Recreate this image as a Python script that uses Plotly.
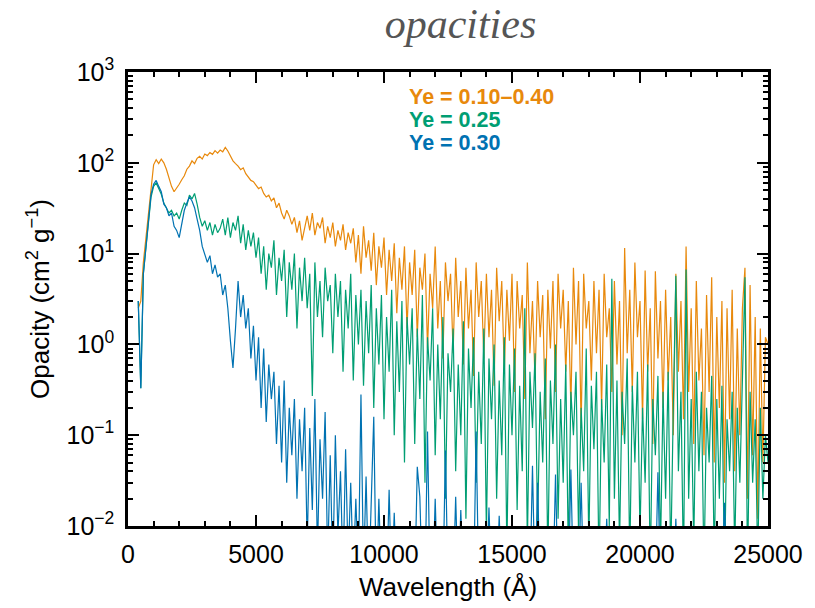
import plotly.graph_objects as go

# wavelength grid (Angstrom): 400 .. 25000 in 100 A steps
wl_start = 400
wl_step = 100

opacity_ye_010_040 = [
    2.5, 3.0, 8, 15, 32, 60, 95, 108, 98, 110,
    100, 85, 68, 55, 48, 52, 58, 65, 72, 85,
    92, 105, 98, 112, 118, 110, 125, 120, 130, 124,
    136, 128, 138, 132, 148, 135, 118, 105, 98, 92,
    84, 88, 76, 70, 64, 62, 56, 52, 54, 46,
    42, 44, 38, 41, 32, 36, 28, 24, 30, 26,
    21, 25, 17, 23, 14, 20, 26, 18, 28, 16,
    22, 19, 25, 13, 20, 15, 22, 12, 18, 14,
    21, 11, 17, 13, 19, 8, 16, 6, 20, 9,
    14, 6.5, 17, 4.5, 12, 7, 15, 3.5, 11, 5,
    13, 2.2, 9, 4, 12, 1.5, 8, 3.5, 11, 1.2,
    7, 4, 10, 0.9, 6, 2.5, 12, 1.5, 5, 0.7,
    8, 3, 6, 0.8, 9, 2, 5, 0.6, 7, 1.5,
    4, 0.45, 8, 2, 5, 0.7, 6, 1.2, 4, 0.35,
    7, 1.8, 5, 0.5, 4, 1.1, 6, 0.3, 5, 1.5,
    3.5, 0.25, 8, 0.8, 3, 0.4, 5, 1.2, 3.5, 0.15,
    4, 0.9, 5, 0.3, 6, 1.5, 4, 0.5, 3, 0.2,
    7, 1, 5, 0.12, 6, 1.5, 3, 0.4, 5, 0.8,
    4, 0.2, 6, 1.2, 2.5, 0.3, 5, 0.6, 3, 0.1,
    11.5, 0.8, 4, 0.3, 8, 1.2, 3, 0.15, 6.5, 0.5,
    2.5, 0.08, 6.4, 0.7, 3, 0.2, 4, 0.4, 2, 0.1,
    6, 0.5, 3, 0.15, 12, 0.3, 2.5, 0.08, 5, 0.4,
    1.5, 0.06, 3.5, 0.3, 5.5, 0.05, 2, 0.2, 3, 0.03,
    2.5, 0.15, 4, 0.04, 1.5, 0.1, 2.5, 7, 0.02, 4.5,
    0.06, 2, 0.012, 1.5, 0.05, 1.2, 1.0,
]

opacity_ye_025 = [
    3, 0.33, 6, 12, 25, 42, 55, 60, 52, 45,
    36, 32, 28, 30, 26, 28, 24, 30, 36, 34,
    44, 40, 46, 35, 25, 20, 23, 18, 22, 16,
    21, 17, 19, 24, 16, 25, 15, 22, 18, 26,
    13, 21, 11, 18, 12, 17, 9, 15, 6, 12,
    4, 10, 7, 14, 3.5, 9, 5, 11, 2, 8,
    4, 10, 1.5, 7, 3, 9, 2.5, 6, 0.27, 8,
    2, 5, 1.2, 7, 3, 4.5, 0.8, 6, 2, 5,
    0.5, 4, 1.5, 6, 0.4, 3.5, 1, 4, 0.35, 3,
    0.8, 4.5, 0.2, 2.5, 0.6, 3.5, 0.15, 2, 0.5, 4,
    0.1, 1.8, 0.3, 3, 0.05, 2, 0.6, 2.5, 0.08, 1.5,
    0.25, 3.5, 0.03, 1.2, 0.4, 2.5, 0.06, 1, 0.15, 2,
    0.02, 0.8, 0.3, 1.5, 0.04, 0.6, 0.1, 1.8, 0.012, 0.9,
    0.2, 1.2, 0.03, 0.5, 0.08, 1.5, 0.008, 0.7, 0.15, 1,
    0.02, 0.4, 0.06, 1.2, 0.005, 0.6, 0.1, 0.9, 0.015, 0.35,
    0.04, 2.5, 0.006, 0.5, 0.12, 0.8, 0.01, 0.3, 0.05, 0.7,
    0.004, 0.4, 0.08, 1, 0.012, 0.25, 0.03, 0.6, 0.005, 0.3,
    0.1, 0.5, 0.008, 0.2, 0.04, 0.9, 0.006, 0.35, 0.07, 0.5,
    0.003, 0.25, 0.05, 0.6, 0.01, 5.3, 0.02, 0.4, 0.006, 0.3,
    0.08, 0.7, 0.004, 0.35, 0.05, 0.5, 0.008, 0.2, 0.03, 0.6,
    0.003, 0.25, 0.06, 0.45, 0.005, 0.3, 0.02, 0.5, 0.004, 0.2,
    5.7, 0.04, 0.3, 0.003, 6.7, 0.02, 0.25, 0.006, 0.5, 0.04,
    0.3, 0.003, 0.2, 0.05, 0.45, 0.004, 0.25, 0.02, 0.35, 0.003,
    0.15, 0.04, 0.3, 0.005, 0.2, 0.03, 0.4, 5.5, 0.003, 0.3,
    0.03, 0.15, 0.004, 0.2, 0.02, 0.1, 0.05,
]

opacity_ye_030 = [
    3, 0.33, 6, 12, 25, 45, 58, 64, 55, 48,
    35, 32, 26, 28, 20, 18, 15, 22, 30, 36,
    42, 38, 32, 24, 18, 12, 10, 8, 9.5, 6,
    7.5, 5.5, 6, 3.5, 4.5, 2.5, 1.1, 0.55, 1.5, 5,
    2, 3.5, 1.5, 2.5, 0.7, 1.6, 0.4, 1.2, 0.2, 0.9,
    0.14, 0.6, 0.25, 0.5, 0.08, 0.35, 0.05, 0.4, 0.03, 0.2,
    0.06, 0.25, 0.02, 0.15, 0.04, 0.2, 0.006, 0.12, 0.015, 0.25,
    0.005, 0.09, 0.02, 0.18, 0.004, 0.06, 0.003, 0.1, 0.008, 0.04,
    0.003, 0.07, 0.004, 0.03, 0.003, 0.02, 0.003, 0.28, 0.003, 0.035,
    0.002, 0.015, 0.16, 0.002, 0.02, 0.002, 0.012, 0.002, 0.025, 0.002,
    0.014, 0.002, 0.002, 0.002, 0.002, 0.002, 0.002, 0.002, 0.002, 0.045,
    0.021, 0.002, 0.002, 0.11, 0.002, 0.002, 0.02, 0.002, 0.002, 0.002,
    0.068, 0.002, 0.002, 0.002, 0.021, 0.002, 0.015, 0.002, 0.002, 0.002,
    0.002, 0.002, 0.11, 0.002, 0.002, 0.002, 0.002, 0.016, 0.002, 0.002,
    0.002, 0.013, 0.002, 0.002, 0.002, 0.002, 0.002, 0.002, 0.002, 0.002,
    0.002, 0.002, 0.002, 0.002, 0.046, 0.002, 0.03, 0.002, 0.002, 0.002,
    0.002, 0.002, 0.002, 0.037, 0.002, 0.002, 0.002, 0.002, 0.002, 0.042,
    0.002, 0.002, 0.002, 0.03, 0.002, 0.002, 0.002, 0.002, 0.002, 0.002,
    0.002, 0.002, 0.002, 0.012, 0.002, 0.002, 0.002, 0.002, 0.002, 0.002,
    0.002, 0.002, 0.002, 0.002, 0.002, 0.002, 0.002, 0.002, 0.002, 0.002,
    0.002, 0.002, 0.002, 0.039, 0.002, 0.002, 0.002, 0.002, 0.002, 0.002,
    0.012, 0.002, 0.002, 0.002, 0.002, 0.002, 0.002, 0.002, 0.002, 0.002,
    0.002, 0.002, 0.002, 0.002, 0.002, 0.002, 0.002, 0.002, 0.002, 0.018,
    0.002, 0.002, 0.002, 0.002, 0.002, 0.002, 0.002, 0.002, 0.002, 0.002,
    0.002, 0.002, 0.002, 0.002, 0.002, 0.002, 0.002,
]

series_labels = ["Ye = 0.10–0.40", "Ye = 0.25", "Ye = 0.30"]
series_colors = ["#E8890C", "#009E73", "#0072B2"]

x_tick_vals = [0, 5000, 10000, 15000, 20000, 25000]
x_tick_text = ["0", "5000", "10000", "15000", "20000", "25000"]
y_tick_vals = [0.01, 0.1, 1, 10, 100, 1000]
y_tick_text = ["10<sup>−2</sup>", "10<sup>−1</sup>", "10<sup>0</sup>",
               "10<sup>1</sup>", "10<sup>2</sup>", "10<sup>3</sup>"]


def wl_grid(n):
    return [wl_start + wl_step * i for i in range(n)]


fig = go.Figure()
for vals, name, col in zip([opacity_ye_010_040, opacity_ye_025, opacity_ye_030],
                           series_labels, series_colors):
    fig.add_trace(go.Scatter(x=wl_grid(len(vals)), y=vals, mode="lines",
                             name=name, line=dict(color=col, width=1.2),
                             showlegend=False))

font_main = "Liberation Sans, Arial, Helvetica, sans-serif"
axis_common = dict(
    showline=True, linecolor="black", linewidth=2.5, mirror="allticks",
    ticks="inside", ticklen=11, tickwidth=2, tickcolor="black",
    showgrid=False, zeroline=False,
    tickfont=dict(family=font_main, size=25, color="black"),
)

fig.update_layout(
    width=815, height=608,
    margin=dict(l=128, r=47, t=72, b=82, autoexpand=False),
    paper_bgcolor="white", plot_bgcolor="white",
    title=dict(text="<i>opacities</i>", x=0.565, xanchor="center", y=0.962, yanchor="middle",
               font=dict(family="Liberation Serif, Times New Roman, serif", size=42, color="#555555")),
    xaxis=dict(range=[0, 25000], tickvals=x_tick_vals, ticktext=x_tick_text,
               ticklabelstandoff=4,
               minor=dict(ticks="inside", ticklen=5, tickwidth=1.5, tickcolor="black", dtick=1000),
               title=dict(text="Wavelength (Å)", standoff=12,
                          font=dict(family=font_main, size=26, color="black")),
               **axis_common),
    yaxis=dict(type="log", range=[-2, 3], tickvals=y_tick_vals, ticktext=y_tick_text,
               ticklabelstandoff=6,
               minor=dict(ticks="inside", ticklen=5, tickwidth=1.5, tickcolor="black", dtick="D1"),
               title=dict(text="Opacity (cm<sup>2</sup> g<sup>−1</sup>)", standoff=10,
                          font=dict(family=font_main, size=26, color="black")),
               **axis_common),
)

ann_y = [0.946, 0.895, 0.844]
for name, col, yy in zip(series_labels, series_colors, ann_y):
    fig.add_annotation(text="<b>" + name + "</b>", xref="paper", yref="paper",
                       x=0.436, y=yy, xanchor="left", yanchor="middle", showarrow=False,
                       font=dict(family=font_main, size=21.5, color=col))

fig.write_html("out.html", config={"displayModeBar": False},
               post_script="document.body.style.margin='0px';")
